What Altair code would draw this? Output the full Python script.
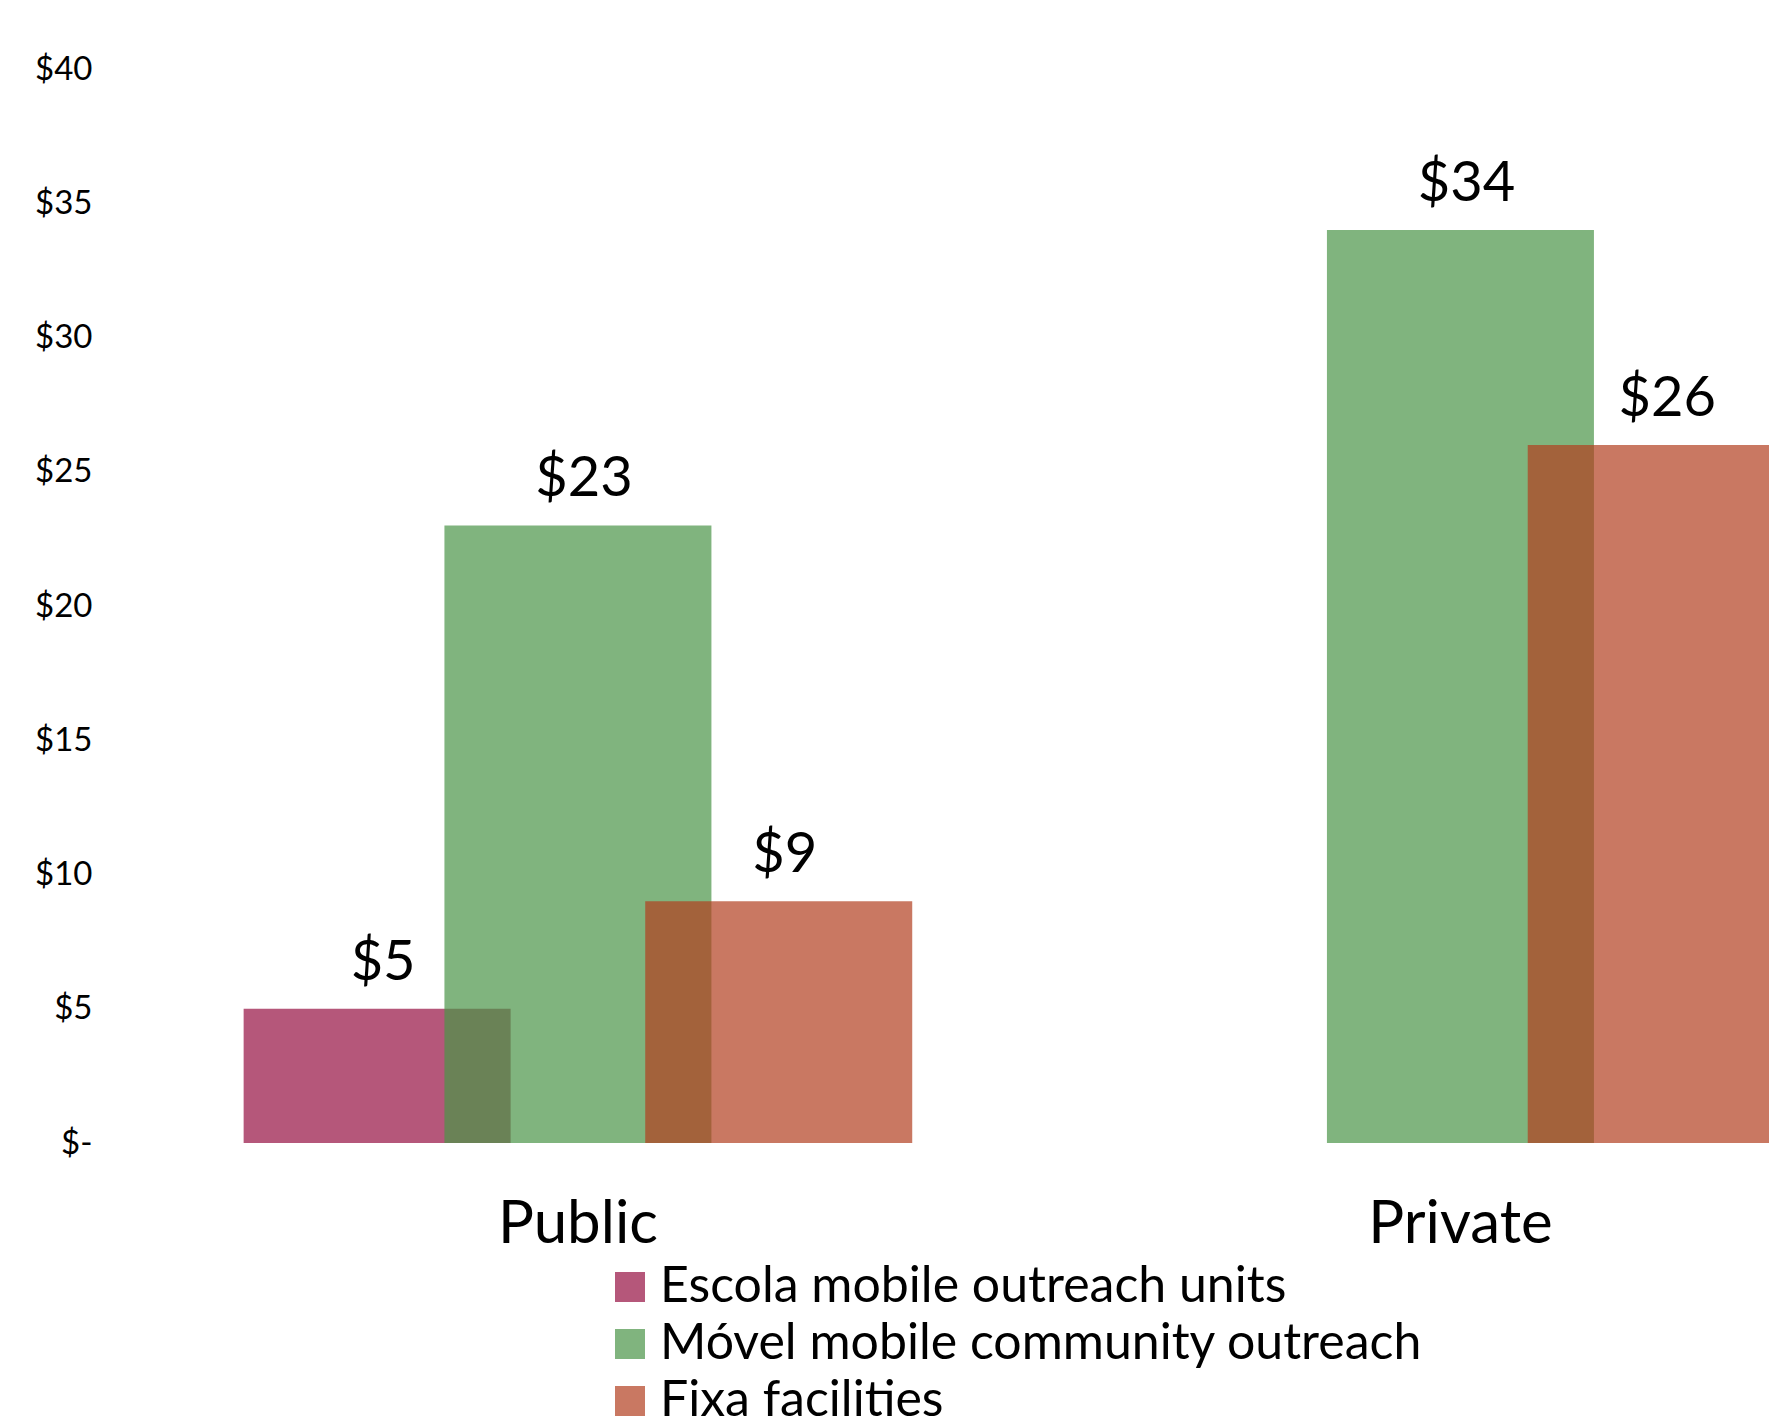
import altair as alt
import pandas as pd

# ---- data ----
categories = ["Public", "Public", "Public", "Private", "Private"]
series = [
    "Escola mobile outreach units",
    "Móvel mobile community outreach",
    "Fixa facilities",
    "Móvel mobile community outreach",
    "Fixa facilities",
]
values = [5, 23, 9, 34, 26]

category_order = ["Public", "Private"]
series_order = [
    "Escola mobile outreach units",
    "Móvel mobile community outreach",
    "Fixa facilities",
]
series_colors = ["#950F41", "#4A9447", "#B23E20"]
y_ticks = [0, 5, 10, 15, 20, 25, 30, 35, 40]

df = pd.DataFrame({"category": categories, "series": series, "value": values})

FONT = "Lato"

base = alt.Chart(df).encode(
    x=alt.X(
        "category:N",
        sort=category_order,
        scale=alt.Scale(paddingInner=0.3174, paddingOuter=0.1043, align=0.96),
        axis=alt.Axis(
            title=None, labelAngle=0, labelFontSize=60, labelFont=FONT,
            labelColor="black", domain=False, ticks=False, tickSize=0,
            labelPadding=52, grid=False, labelLimit=0,
        ),
    ),
    xOffset=alt.XOffset(
        "series:N", sort=series_order,
        scale=alt.Scale(domain=series_order, paddingInner=0, paddingOuter=0),
    ),
    y=alt.Y(
        "value:Q",
        scale=alt.Scale(domain=[0, 40], nice=False, zero=True),
        axis=alt.Axis(
            title=None, values=y_ticks, grid=False, domain=False, ticks=False,
            tickSize=0, labelPadding=8, labelFontSize=33, labelFont=FONT,
            labelColor="black",
            labelExpr="datum.value == 0 ? '$-\u00a0\u00a0' : '$' + datum.value",
        ),
    ),
)

bars = base.mark_bar(width=267, opacity=0.7).encode(
    color=alt.Color(
        "series:N",
        scale=alt.Scale(domain=series_order, range=series_colors),
        legend=alt.Legend(
            orient="none", legendX=505, legendY=1193, title=None,
            symbolType="square", symbolSize=900, symbolOpacity=0.7,
            symbolStrokeWidth=0, labelFontSize=50, labelFont=FONT,
            labelColor="black", labelOffset=5, rowPadding=7, padding=0,
            labelLimit=0,
        ),
    )
)

labels = base.transform_calculate(
    label="'$' + datum.value"
).mark_text(
    baseline="alphabetic", dy=-29, dx=6, fontSize=56, font=FONT, color="black"
).encode(text="label:N")

chart = (
    alt.layer(bars, labels)
    .properties(
        width=1669,
        height=1074,
        padding={"left": 100, "top": 69, "right": 0, "bottom": 278},
        autosize=alt.AutoSizeParams(type="none"),
        background="white",
    )
    .configure_view(stroke=None)
)

chart.save("out.html", embed_options={"renderer": "svg", "actions": False})
